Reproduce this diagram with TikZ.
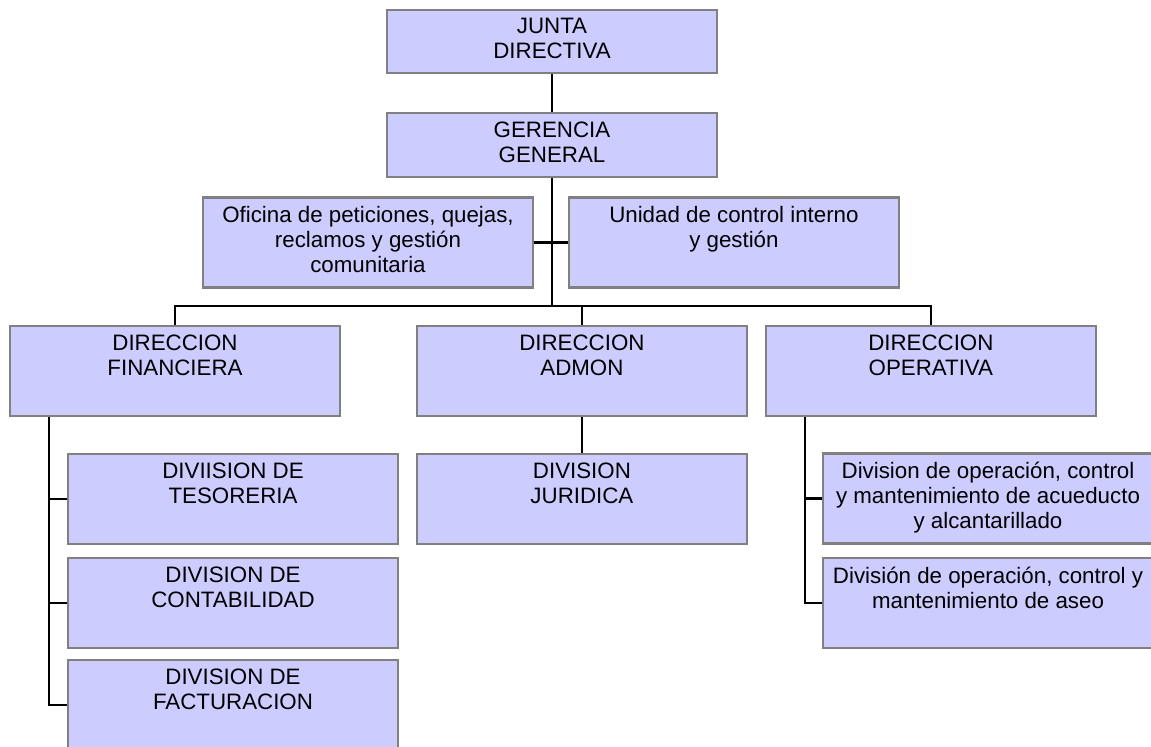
\documentclass[tikz,border=0pt]{standalone}
\usepackage{fontspec}
\setmainfont{Liberation Sans}
\usetikzlibrary{positioning}
\definecolor{unitfill}{RGB}{204,204,255}
\definecolor{unitline}{RGB}{128,128,128}

\begin{document}
\begin{tikzpicture}[
    x=0.02cm, y=-0.02cm,
    on grid,
    unit/.style={draw=unitline, fill=unitfill, line width=1.3pt, minimum width=6.6cm, minimum height=1.8cm, inner sep=0pt},
    head/.style={unit, minimum height=1.27cm},
    boxtext/.style={anchor=north, yshift=-0.19cm, inner sep=0pt, align=center, font=\fontsize{12.7}{14.2}\selectfont},
    link/.style={line width=1.4pt, black}
]
   \useasboundingbox (0,0) rectangle (1151,746);

   % Top
   \node[head, label={[boxtext]north:JUNTA\\DIRECTIVA}] (junta) at (552,41.5) {};
   \node[head, label={[boxtext]north:GERENCIA\\GENERAL}] (gerencia) [below=2.07cm of junta] {};

   % Staff units
   \node[unit, label={[boxtext]north:{Oficina de peticiones, quejas,\\reclamos y gestión\\comunitaria}}] (oficina) at (368,242.5) {};
   \node[unit, label={[boxtext]north:{Unidad de control interno\\y gestión}}] (unidad) [right=7.32cm of oficina] {};

   % Directions
   \node[unit, label={[boxtext]north:DIRECCION\\FINANCIERA}] (fin) at (175,371) {};
   \node[unit, label={[boxtext]north:DIRECCION\\ADMON}] (admon) [right=8.14cm of fin] {};
   \node[unit, label={[boxtext]north:DIRECCION\\OPERATIVA}] (oper) [right=6.98cm of admon] {};

   % Divisions
   \node[unit, label={[boxtext]north:DIVIISION DE\\TESORERIA}] (teso) at (233,499) {};
   \node[unit, label={[boxtext]north:DIVISION DE\\CONTABILIDAD}] (conta) [below=2.08cm of teso] {};
   \node[unit, label={[boxtext]north:DIVISION DE\\FACTURACION}] (factu) [below=2.04cm of conta] {};
   \node[unit, label={[boxtext]north:DIVISION\\JURIDICA}] (jurid) [below=2.56cm of admon] {};
   \node[unit, label={[boxtext]north:{Division de operación, control\\y mantenimiento de acueducto\\y alcantarillado}}] (acue) at (988,498.5) {};
   \node[unit, label={[boxtext]north:{División de operación, control y\\mantenimiento de aseo}}] (aseo) [below=2.09cm of acue] {};

   % Connectors
   \coordinate (bus) at (552,306);
   \coordinate (finspine) at ([xshift=0.8cm]fin.south west);
   \coordinate (operspine) at ([xshift=0.8cm]oper.south west);

   \draw[link] (junta) -- (gerencia);
   \draw[link] (gerencia) -- (bus);
   \draw[link] (oficina) -- (unidad);
   \draw[link] (fin.north) |- (bus) -| (oper.north);
   \draw[link] (admon.north |- bus) -- (admon.north);
   \draw[link] (admon) -- (jurid);
   \foreach \d in {teso, conta, factu}
      \draw[link] (finspine) |- (\d.west);
   \foreach \d in {acue, aseo}
      \draw[link] (operspine) |- (\d.west);
\end{tikzpicture}
\end{document}
